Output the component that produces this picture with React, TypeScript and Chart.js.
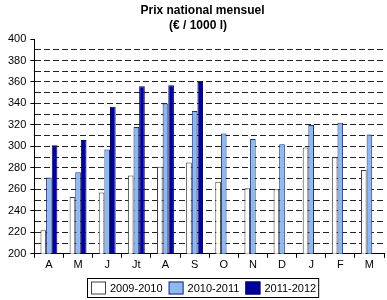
import React, { useEffect, useRef } from "react";
import { Chart, registerables } from "chart.js";

Chart.register(...registerables);

const months = ["A", "M", "J", "Jt", "A", "S", "O", "N", "D", "J", "F", "M"];
const s2009 = [222, 253, 257, 273, 281, 285, 267, 261, 260, 299, 290, 278];
const s2010 = [271, 276, 297, 318, 340, 333, 312, 307, 302, 320, 322, 311];
const s2011 = [301, 306, 337, 356, 357, 360, null, null, null, null, null, null];
const seriesNames = ["2009-2010", "2010-2011", "2011-2012"];
const titleLines = ["Prix national mensuel", "(€ / 1000 l)"];

const FONT = "Arial, 'Liberation Sans', sans-serif";

const titlePlugin = {
  id: "customTitle",
  afterDraw(chart: any) {
    const ctx = chart.ctx;
    ctx.save();
    ctx.fillStyle = "#000";
    ctx.textAlign = "center";
    ctx.textBaseline = "alphabetic";
    ctx.font = `bold 12px ${FONT}`;
    ctx.fillText(titleLines[0], 202.5, 13.5);
    ctx.fillText(titleLines[1], 198, 28.5);
    ctx.restore();
  },
};

const legendPlugin = {
  id: "customLegend",
  afterDraw(chart: any) {
    const ctx = chart.ctx;
    ctx.save();
    ctx.font = `11px ${FONT}`;
    const boxW = 15;
    const boxH = 13;
    const gapText = 4;
    const gapItem = 6;
    const padX = 3;
    const ds = chart.data.datasets;
    const widths = ds.map((d: any) => ctx.measureText(d.label).width);
    let total = padX * 2;
    widths.forEach((w: number, i: number) => {
      total += boxW + gapText + w + (i < widths.length - 1 ? gapItem : 0);
    });
    const cx = 203;
    const left = Math.round(cx - total / 2);
    const top = 278;
    const h = 19;
    ctx.strokeStyle = "#000";
    ctx.lineWidth = 1;
    ctx.strokeRect(left + 0.5, top + 0.5, total, h);
    let x = left + padX + 1;
    const cy = top + h / 2 + 0.5;
    ds.forEach((d: any, i: number) => {
      ctx.fillStyle = d.backgroundColor;
      ctx.fillRect(x, cy - boxH / 2, boxW, boxH);
      ctx.strokeStyle = d.borderColor;
      ctx.strokeRect(x + 0.5, cy - boxH / 2 + 0.5, boxW - 1, boxH - 1);
      x += boxW + gapText;
      ctx.fillStyle = "#000";
      ctx.textAlign = "left";
      ctx.textBaseline = "middle";
      ctx.fillText(d.label, x, cy + 0.5);
      x += widths[i] + gapItem;
    });
    ctx.restore();
  },
};

export default function App() {
  const ref = useRef<HTMLCanvasElement | null>(null);
  useEffect(() => {
    document.body.style.margin = "0";
    const chart = new Chart(ref.current as HTMLCanvasElement, {
      type: "bar",
      data: {
        labels: months,
        datasets: [
          {
            label: seriesNames[0],
            data: s2009,
            backgroundColor: "#ffffff",
            borderColor: "#404040",
            borderWidth: 1,
          },
          {
            label: seriesNames[1],
            data: s2010,
            backgroundColor: "#8db9f0",
            borderColor: "#1f2f7a",
            borderWidth: 1,
          },
          {
            label: seriesNames[2],
            data: s2011 as any,
            backgroundColor: "#00009c",
            borderColor: "#000060",
            borderWidth: 1,
          },
        ],
      },
      plugins: [titlePlugin, legendPlugin],
      options: {
        responsive: false,
        animation: false,
        devicePixelRatio: 1,
        layout: { padding: { left: 4, right: 3, top: 39, bottom: 27 } },
        datasets: {
          bar: { barPercentage: 1, categoryPercentage: 0.58 },
        },
        plugins: {
          title: { display: false },
          legend: { display: false },
          tooltip: { enabled: false },
        },
        scales: {
          x: {
            grid: {
              display: true,
              drawOnChartArea: false,
              drawTicks: true,
              tickLength: 4,
              tickColor: "#000",
              offset: true,
            },
            border: { display: true, color: "#000", width: 1 },
            ticks: {
              color: "#000",
              font: { family: FONT, size: 11 },
              padding: 1,
              maxRotation: 0,
              autoSkip: false,
            },
          },
          y: {
            min: 200,
            max: 400,
            ticks: {
              stepSize: 10,
              autoSkip: false,
              color: "#000",
              font: { family: FONT, size: 11 },
              padding: 4,
              callback: (v: any) => (Number(v) % 20 === 0 ? String(v) : ""),
            },
            grid: {
              color: (c: any) =>
                c.tick && (c.tick.value === 400 || c.tick.value === 200) ? "rgba(0,0,0,0)" : "#222",
              tickColor: (c: any) =>
                c.tick && c.tick.value % 20 === 0 ? "#000" : "rgba(0,0,0,0)",
              tickLength: 4,
              lineWidth: 1,
              drawTicks: true,
            },
            border: { display: true, color: "#000", width: 1, dash: [6, 3] },
          },
        },
      } as any,
    });
    return () => chart.destroy();
  }, []);
  return <canvas ref={ref} width={387} height={300} style={{ display: "block" }} />;
}
